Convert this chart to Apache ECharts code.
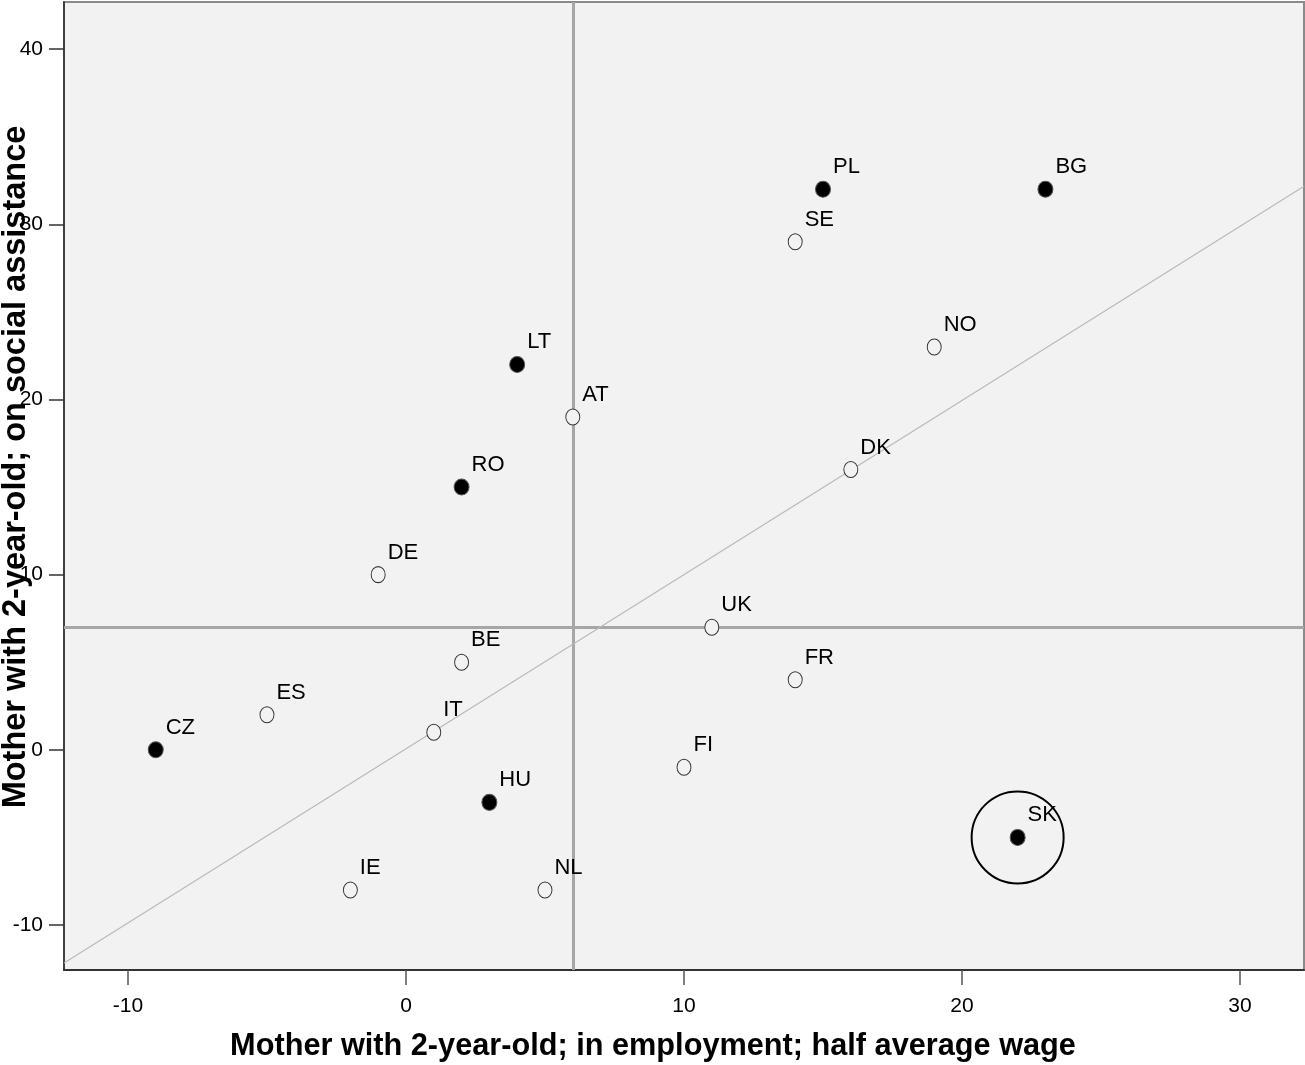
<!DOCTYPE html>
<html>
<head>
<meta charset="utf-8">
<title>Mother with 2-year-old: employment vs social assistance</title>
<script src="https://cdn.jsdelivr.net/npm/echarts@6/dist/echarts.min.js"></script>
<style>
  html, body { margin: 0; padding: 0; background: #ffffff; }
  #chart { width: 1305px; height: 1065px; }
</style>
</head>
<body>
<div id="chart"></div>
<script>
// Country codes and their two scores
const countries = ['PL', 'BG', 'SE', 'NO', 'LT', 'AT', 'DK', 'RO', 'DE', 'UK',
                   'BE', 'FR', 'ES', 'IT', 'CZ', 'FI', 'HU', 'SK', 'IE', 'NL'];
// In employment; half average wage
const employment = [15, 23, 14, 19, 4, 6, 16, 2, -1, 11,
                    2, 14, -5, 1, -9, 10, 3, 22, -2, 5];
// On social assistance
const assistance = [32, 32, 29, 23, 22, 19, 16, 15, 10, 7,
                    5, 4, 2, 1, 0, -1, -3, -5, -8, -8];
// Filled marker group (1) vs open marker (0)
const filled = [1, 1, 0, 0, 1, 0, 0, 1, 0, 0,
                0, 0, 0, 0, 1, 0, 1, 1, 0, 0];
// Country singled out with a ring
const highlighted = ['SK'];

// Reference lines: means of both axes and the fit line
const meanEmployment = 6;
const meanAssistance = 7;
const fitLine = [[-12.3, -12.17], [32.3, 32.17]];

// Axis ranges, tick labels and titles
const xRange = [-12.3, 32.3];
const yRange = [-12.57, 42.69];
const xTicks = [-10, 0, 10, 20, 30];
const yTicks = [-10, 0, 10, 20, 30, 40];
const xTitle = 'Mother with 2-year-old; in employment; half average wage';
const yTitle = 'Mother with 2-year-old; on social assistance';

const FONT = '"Liberation Sans", Arial, sans-serif';
const BG = '#f2f2f2';

const openPts = [], filledPts = [], ringPts = [];
countries.forEach((c, i) => {
  const p = { name: c, value: [employment[i], assistance[i]] };
  (filled[i] ? filledPts : openPts).push(p);
  if (highlighted.includes(c)) ringPts.push({ name: c, value: [employment[i], assistance[i]] });
});

const pointLabel = {
  show: true,
  formatter: '{b}',
  position: 'right',
  distance: 2,
  offset: [0, -22],
  color: '#000',
  fontFamily: FONT,
  fontSize: 22
};

const chart = echarts.init(document.getElementById('chart'), null, { renderer: 'canvas' });

chart.setOption({
  backgroundColor: '#ffffff',
  animation: false,
  grid: {
    left: 64, right: 1, top: 2, bottom: 95,
    containLabel: false,
    outerBoundsMode: 'none',
    show: true, backgroundColor: BG, borderColor: '#8a8a8a', borderWidth: 2
  },
  graphic: [
    {
      type: 'text',
      x: 653, y: 1047,
      silent: true,
      style: {
        text: xTitle, align: 'center', verticalAlign: 'middle',
        fill: '#000', font: 'bold 30.7px ' + FONT
      }
    },
    {
      type: 'text',
      x: 16, y: 467,
      rotation: Math.PI / 2,
      silent: true,
      style: {
        text: yTitle, align: 'center', verticalAlign: 'middle',
        fill: '#000', font: 'bold 32.5px ' + FONT
      }
    }
  ],
  xAxis: {
    type: 'value',
    min: xRange[0], max: xRange[1],
    axisLine: { show: true, onZero: false, lineStyle: { color: '#333', width: 2 } },
    axisTick: { show: true, customValues: xTicks, length: 15, lineStyle: { color: '#555', width: 1.5 } },
    axisLabel: { customValues: xTicks, margin: 26, color: '#000', fontFamily: FONT, fontSize: 21 },
    splitLine: { show: false }
  },
  yAxis: {
    type: 'value',
    min: yRange[0], max: yRange[1],
    axisLine: { show: true, onZero: false, lineStyle: { color: '#404040', width: 2 } },
    axisTick: { show: true, customValues: yTicks, length: 15, lineStyle: { color: '#333', width: 1.5 } },
    axisLabel: { customValues: yTicks, margin: 21, color: '#000', fontFamily: FONT, fontSize: 21 },
    splitLine: { show: false }
  },
  series: [
    {
      // fit line through the cloud, plus the two mean lines underneath the points
      type: 'line',
      data: fitLine,
      symbol: 'none',
      silent: true,
      lineStyle: { color: '#b9b9b9', width: 1.2 },
      z: 2,
      markLine: {
        z: 1,
        silent: true,
        symbol: 'none',
        label: { show: false },
        lineStyle: { color: '#a6a6a6', width: 3, type: 'solid' },
        data: [{ xAxis: meanEmployment }, { yAxis: meanAssistance }]
      }
    },
    {
      type: 'scatter',
      data: openPts,
      symbol: 'circle',
      symbolSize: [14, 16],
      itemStyle: { color: BG, borderColor: '#333', borderWidth: 1, opacity: 1 },
      label: pointLabel,
      z: 4
    },
    {
      type: 'scatter',
      data: filledPts,
      symbol: 'circle',
      symbolSize: [15, 16],
      itemStyle: { color: '#000', borderColor: '#555', borderWidth: 1, opacity: 1 },
      label: pointLabel,
      z: 5
    },
    {
      type: 'scatter',
      data: ringPts,
      symbol: 'circle',
      symbolSize: 92,
      silent: true,
      itemStyle: { color: 'rgba(0,0,0,0)', borderColor: '#000', borderWidth: 2, opacity: 1 },
      label: { show: false },
      z: 3
    }
  ]
});
</script>
</body>
</html>
